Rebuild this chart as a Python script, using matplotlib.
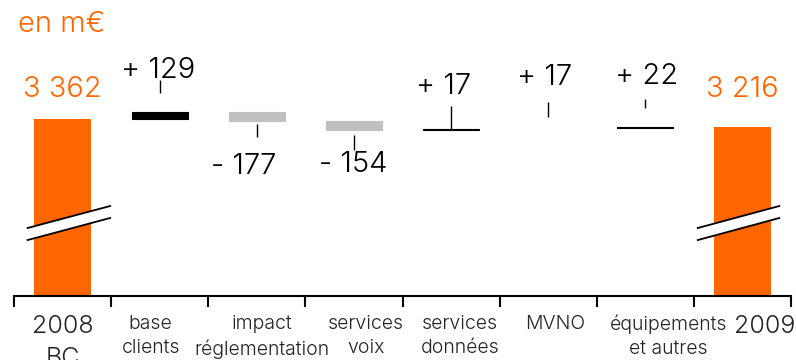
import matplotlib
matplotlib.use("Agg")
import matplotlib.pyplot as plt
from matplotlib.patches import Polygon
import numpy as np

plt.rcParams['font.family'] = ['Inter', 'DejaVu Sans']
plt.rcParams['font.weight'] = 300

# data
categories = ["2008\nBC", "base\nclients", "impact\nréglementation", "services\nvoix",
              "services\ndonnées", "MVNO", "équipements\net autres", "2009"]
start_value = 3362
deltas = [129, -177, -154, 17, 17, 22]
end_value = 3216
unit_label = "en m€"

# styles / layout (pixels)
ORANGE = "#FF6600"
delta_colors = ["black", "#C0C0C0", "#C0C0C0", "black", "white", "black"]
cat_nudge = [0, -9, 5, 12, 9, 7, 23, 22]           # horizontal shifts of category labels
val_nudge = [-2, -13, -1, -7, -4, 1]               # horizontal shifts of delta labels
val_dist = [41, 45, 35, 42, 51, 50]                # distance bar end -> delta label centre
tick_gap = [19, 3, 5, 0, 11, 19]                   # connector: gap from bar end
tick_len = [13, 13, 15, 23, 15, 9]                 # connector: length
total_dist = [29, 37]                              # distance bar top -> total label centre
break_span = [(-0.36, 0.49), (-0.46, 0.38)]        # extent of the break marks around each total
bar_w = 0.58

Y_MIN, Y_MAX = 130, 5530                            # broken axis: only the top of the totals is shown

fig = plt.figure(figsize=(7.96, 3.6), dpi=100)
ax = fig.add_axes([14 / 796, 64 / 360, 777 / 796, 296 / 360])
ax.set_xlim(-0.5, len(categories) - 0.5)
ax.set_ylim(Y_MIN, Y_MAX)
upp = (Y_MAX - Y_MIN) / 296.0                        # data units per pixel
slot = 777 / len(categories)                         # pixels per category

# totals
n = len(categories)
ax.bar([0, n - 1], [start_value, end_value], width=bar_w, color=ORANGE, zorder=2)
for k, (xi, v) in enumerate([(0, start_value), (n - 1, end_value)]):
    ax.text(xi, v + total_dist[k] * upp, f"{v:,}".replace(",", " "), color=ORANGE,
            fontsize=21, ha="center", va="center")

# deltas
cum = start_value
for i, d in enumerate(deltas):
    xi = i + 1
    ax.bar(xi, d, bottom=cum, width=bar_w, color=delta_colors[i],
           edgecolor=delta_colors[i], linewidth=0.8, zorder=2)
    txt = f"+ {d}" if d > 0 else f"- {abs(d)}"
    sgn = 1 if d > 0 else -1
    end = cum + d
    ax.vlines(xi, end + sgn * tick_gap[i] * upp, end + sgn * (tick_gap[i] + tick_len[i]) * upp,
              color="black", linewidth=1)
    ax.text(xi + val_nudge[i] / slot, end + sgn * val_dist[i] * upp, txt, fontsize=21,
            ha="center", va="center")
    cum += d

# break marks on the totals
tr = ax.get_xaxis_transform()
for xi, (a, b) in zip([0, n - 1], break_span):
    x0, x1 = xi + a, xi + b
    ax.add_patch(Polygon([(x0, 0.189), (x1, 0.2635), (x1, 0.304), (x0, 0.2297)],
                         closed=True, facecolor="white", edgecolor="none",
                         transform=tr, zorder=3))
    ax.plot([x0, x1], [0.2297, 0.304], color="black", lw=1.3, transform=tr, zorder=4)
    ax.plot([x0, x1], [0.189, 0.2635], color="black", lw=1.3, transform=tr, zorder=4)

# axis
for s in ["left", "right", "top"]:
    ax.spines[s].set_visible(False)
ax.spines["bottom"].set_linewidth(1.5)
ax.set_yticks([])
ax.set_xticks(np.arange(-0.5, n, 1))
ax.set_xticklabels([])
ax.tick_params(axis="x", direction="out", length=8, width=1.5)

for i, lab in enumerate(categories):
    big = i in (0, n - 1)
    ax.text(i + cat_nudge[i] / slot, -19 / 296, lab, transform=tr,
            fontsize=18 if big else 14, ha="center", va="top",
            linespacing=1.5 if big else 1.4, color="#222222")

fig.text(18 / 796, 1 - 24 / 360, unit_label, color=ORANGE, fontsize=21, ha="left", va="center")

fig.savefig("out.png", dpi=100)
